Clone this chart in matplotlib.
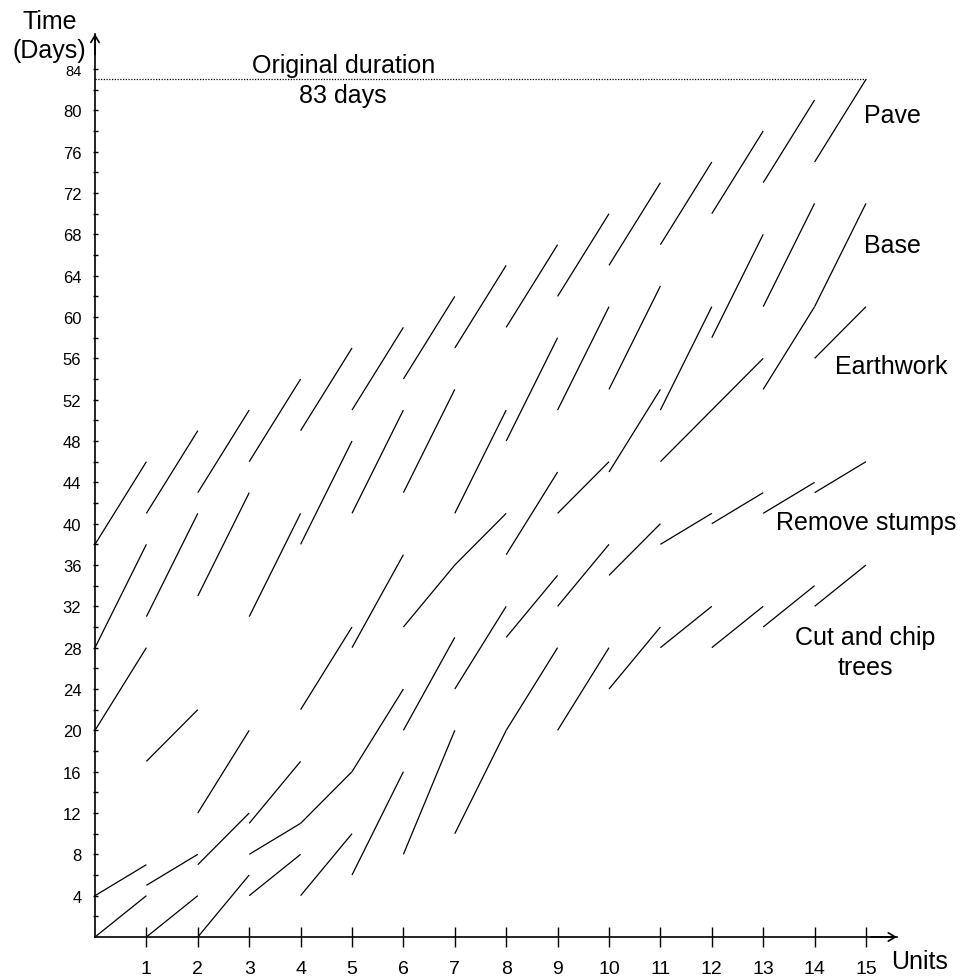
import matplotlib
matplotlib.use("Agg")
import matplotlib.pyplot as plt

plt.rcParams['font.family'] = ['Liberation Sans', 'DejaVu Sans']

# Units along the road (x) and days for each activity per unit: start / finish
units = list(range(1, 16))
unit_labels = [str(u) for u in units]

cut_start = [0, 0, 0, 4, 4, 6, 8, 10, 20, 20, 24, 28, 28, 30, 32]
cut_end = [4, 4, 6, 8, 10, 16, 20, 20, 28, 28, 30, 32, 32, 34, 36]

stump_start = [4, 5, 7, 8, 11, 16, 20, 24, 29, 32, 35, 38, 40, 41, 43]
stump_end = [7, 8, 12, 11, 16, 24, 29, 32, 35, 38, 40, 41, 43, 44, 46]

earth_start = [20, 17, 12, 11, 22, 28, 30, 36, 37, 41, 45, 46, 51, 53, 56]
earth_end = [28, 22, 20, 17, 30, 37, 36, 41, 45, 46, 53, 51, 56, 61, 61]

base_start = [28, 31, 33, 31, 38, 41, 43, 41, 48, 51, 53, 51, 58, 61, 61]
base_end = [38, 41, 43, 41, 48, 51, 53, 51, 58, 61, 63, 61, 68, 71, 71]

pave_start = [38, 41, 43, 46, 49, 51, 54, 57, 59, 62, 65, 67, 70, 73, 75]
pave_end = [46, 49, 51, 54, 57, 59, 62, 65, 67, 70, 73, 75, 78, 81, 83]

original_duration = 83
day_ticks = list(range(2, 85, 2))
day_labels = [str(d) if d % 4 == 0 else '' for d in day_ticks]

activities = [
    (cut_start, cut_end),
    (stump_start, stump_end),
    (earth_start, earth_end),
    (base_start, base_end),
    (pave_start, pave_end),
]

fig = plt.figure(figsize=(9.64, 9.79), dpi=100)
ax = fig.add_axes([0, 0, 1, 1])
ax.set_xlim(-95 / 51.4, (964 - 95) / 51.4)
ax.set_ylim(-(979 - 938) / 10.333, 938 / 10.333)

# production lines: one segment per unit for every activity
for starts, ends in activities:
    for u, s, e in zip(units, starts, ends):
        ax.plot([u - 1, u], [s, e], color='black', lw=0.9, solid_capstyle='butt')

# original project duration
ax.plot([0, units[-1]], [original_duration, original_duration], color='black',
        lw=0.9, linestyle=(0, (1, 1.2)))
ax.text(4.84, 83.68, 'Original duration', ha='center', va='baseline', fontsize=18)
ax.text(4.83, 80.77, f'{original_duration} days', ha='center', va='baseline', fontsize=18)

# activity names
ax.text(15.51, 78.87, 'Pave', ha='center', va='baseline', fontsize=18)
ax.text(15.51, 66.29, 'Base', ha='center', va='baseline', fontsize=18)
ax.text(15.50, 54.58, 'Earthwork', ha='center', va='baseline', fontsize=18)
ax.text(15.01, 39.48, 'Remove stumps', ha='center', va='baseline', fontsize=18)
ax.text(14.99, 28.36, 'Cut and chip', ha='center', va='baseline', fontsize=18)
ax.text(14.99, 25.45, 'trees', ha='center', va='baseline', fontsize=18)

# axes through the origin with arrow heads
x_tip = 15.6
y_tip = 87.4
for side in ('top', 'right'):
    ax.spines[side].set_visible(False)
ax.spines['bottom'].set_position(('data', 0))
ax.spines['left'].set_position(('data', 0))
ax.spines['bottom'].set_bounds(0, x_tip)
ax.spines['left'].set_bounds(0, y_tip)
ax.spines['bottom'].set_linewidth(1.2)
ax.spines['left'].set_linewidth(1.2)

arrow = dict(arrowstyle='->,head_length=0.5,head_width=0.3', lw=1.2,
             color='black', shrinkA=0, shrinkB=0)
ax.annotate('', xy=(x_tip, 0), xytext=(x_tip - 0.5, 0), arrowprops=arrow)
ax.annotate('', xy=(0, y_tip), xytext=(0, y_tip - 2), arrowprops=arrow)

ax.set_xticks(units)
ax.set_xticklabels(unit_labels)
ax.tick_params(axis='x', direction='inout', length=15, width=1.0,
               labelsize=14, pad=9)

ax.set_yticks(day_ticks)
ax.set_yticklabels(day_labels)
ax.tick_params(axis='y', direction='inout', length=3.6, width=1.0,
               labelsize=12, pad=8)
for lbl in ax.get_yticklabels():
    if lbl.get_text() == '84':
        lbl.set_fontsize(10.5)

ax.text(15.49, -2.32, 'Units', ha='left', va='center', fontsize=18)
ax.text(-0.885, 87.95, 'Time', ha='center', va='baseline', fontsize=18)
ax.text(-0.895, 85.15, '(Days)', ha='center', va='baseline', fontsize=18)

fig.savefig('out.png', dpi=100)
